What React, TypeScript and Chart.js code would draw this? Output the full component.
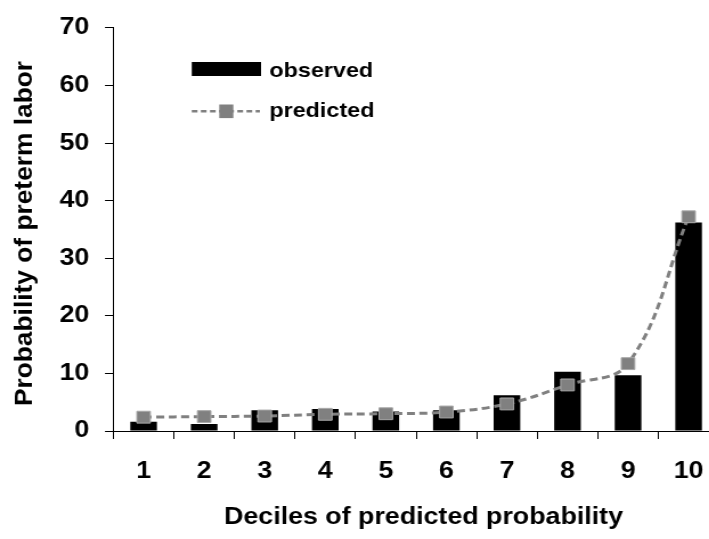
import React, { useEffect, useRef } from 'react';
import { Chart, registerables } from 'chart.js';

Chart.register(...registerables);

// ---- data ----
const deciles = ['1', '2', '3', '4', '5', '6', '7', '8', '9', '10'];
const observed = [1.6, 1.2, 3.6, 3.8, 3.4, 3.6, 6.2, 10.3, 9.7, 36.2];
const predicted = [2.4, 2.5, 2.6, 2.9, 3.0, 3.3, 4.7, 8.0, 11.7, 37.2];
const seriesNames = ['observed', 'predicted'];
const yMin = 0;
const yMax = 70;
const yStep = 10;
const xTitle = 'Deciles of predicted probability';
const yTitle = 'Probability of preterm labor';

// ---- layout / style ----
const STRETCH = 1.14;
const W = 640;
const H = 539;
const FONT = "'Liberation Sans', Arial, sans-serif";

const overlayPlugin = {
  id: 'overlay',
  afterDraw(chart: any) {
    const ctx = chart.ctx as CanvasRenderingContext2D;
    const ds = chart.data.datasets;
    ctx.save();
    // legend: observed
    ctx.fillStyle = ds[0].backgroundColor;
    ctx.fillRect(168.2, 62, 60.8, 14);
    ctx.font = `bold 20.5px ${FONT}`;
    ctx.fillStyle = '#000';
    ctx.textAlign = 'left';
    ctx.textBaseline = 'alphabetic';
    ctx.fillText(ds[0].label, 236.2, 76.7);
    // legend: predicted
    ctx.strokeStyle = ds[1].borderColor;
    ctx.lineWidth = 2.6;
    ctx.setLineDash([5, 3]);
    ctx.beginPath();
    ctx.moveTo(168.2, 111.3);
    ctx.lineTo(228, 111.3);
    ctx.stroke();
    ctx.setLineDash([]);
    ctx.fillStyle = ds[1].pointBackgroundColor;
    ctx.fillRect(198.5 - 6.2, 111.3 - 6.8, 12.4, 13.6);
    ctx.fillStyle = '#000';
    ctx.fillText(ds[1].label, 236.2, 116.5);
    // x title
    ctx.font = `bold 23.5px ${FONT}`;
    ctx.textAlign = 'center';
    ctx.fillText(xTitle, 371.5, 524);
    // y title
    ctx.translate(22, 233.5);
    ctx.rotate(-Math.PI / 2);
    ctx.scale(1.17, 1);
    ctx.font = `bold 22.5px ${FONT}`;
    ctx.textBaseline = 'middle';
    ctx.fillText(yTitle, 0, 0);
    ctx.restore();
  },
};

export default function App() {
  const ref = useRef<HTMLCanvasElement | null>(null);

  useEffect(() => {
    if (!ref.current) return;
    const tickFont = { family: FONT, size: 23.5, weight: 'bold' as const };
    const chart = new Chart(ref.current, {
      type: 'bar',
      data: {
        labels: deciles,
        datasets: [
          {
            type: 'bar',
            label: seriesNames[0],
            data: observed,
            backgroundColor: '#000000',
            borderWidth: 0,
            barPercentage: 0.44,
            categoryPercentage: 1,
            order: 2,
          } as any,
          {
            type: 'line',
            label: seriesNames[1],
            data: predicted,
            borderColor: '#808080',
            borderWidth: 3,
            borderDash: [7, 4],
            tension: 0.4,
            fill: false,
            pointStyle: 'rect',
            pointRadius: 8.4,
            pointBackgroundColor: '#808080',
            pointBorderColor: '#a8a8a8',
            pointBorderWidth: 1,
            order: 1,
          } as any,
        ],
      },
      options: {
        responsive: false,
        animation: false,
        devicePixelRatio: 1,
        layout: { padding: { left: 0, top: 20.7, right: 9.3, bottom: 0 } },
        plugins: {
          legend: { display: false },
          tooltip: { enabled: false },
        },
        scales: {
          x: {
            offset: true,
            grid: {
              display: true,
              drawOnChartArea: false,
              drawTicks: true,
              tickLength: 8,
              color: '#000',
              offset: true,
            },
            border: { display: true, color: '#000', width: 1 },
            ticks: { color: '#000', font: tickFont, padding: 18, autoSkip: false, maxRotation: 0 },
            afterFit: (s: any) => {
              s.height = 108;
            },
          },
          y: {
            min: yMin,
            max: yMax,
            grid: {
              display: true,
              drawOnChartArea: false,
              drawTicks: true,
              tickLength: 7.3,
              color: '#000',
            },
            border: { display: true, color: '#000', width: 1 },
            ticks: { stepSize: yStep, color: '#000', font: tickFont, padding: 13.8 },
            afterFit: (s: any) => {
              s.width = 99.4;
            },
          },
        },
      } as any,
      plugins: [overlayPlugin],
    });
    return () => chart.destroy();
  }, []);

  return (
    <div
      style={{
        position: 'fixed',
        left: 0,
        top: 0,
        width: 709,
        height: 539,
        overflow: 'hidden',
        background: '#fff',
      }}
    >
      <canvas
        ref={ref}
        width={W}
        height={H}
        style={{
          display: 'block',
          width: `${W}px`,
          height: `${H}px`,
          transform: `scaleX(${STRETCH})`,
          transformOrigin: '0 0',
        }}
      />
    </div>
  );
}
